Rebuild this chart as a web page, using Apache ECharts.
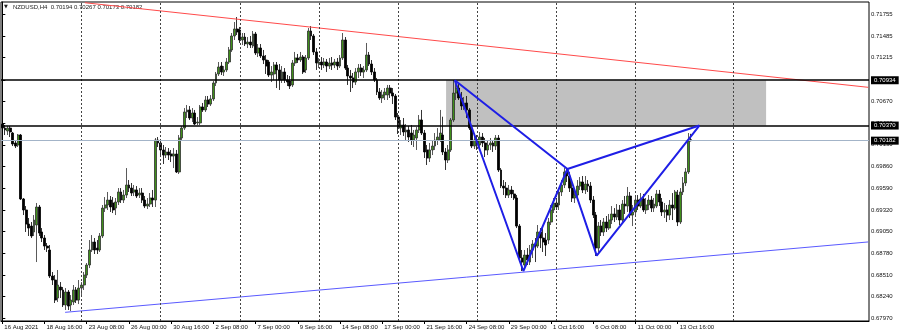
<!DOCTYPE html>
<html><head><meta charset="utf-8">
<script src="https://cdn.jsdelivr.net/npm/echarts@6/dist/echarts.min.js"></script>
<style>html,body{margin:0;padding:0;background:#fff}#c{width:900px;height:334px}</style>
</head><body><div id="c"></div>
<script>
// NZDUSD H4 candles (16 Aug 2021 00:00 .. 14 Oct 2021 12:00)
const openP=[
.70389,.70339,.70302,.70339,.70277,.70153,.70128,.70252,.69456,.69319,
.69144,.69119,.69045,.69132,.69356,.69045,.68970,.68870,.68821,.68497,
.68447,.68223,.68360,.68323,.68136,.68298,.68136,.68173,.68323,.68198,
.68347,.68385,.68509,.68634,.68821,.68920,.68845,.68821,.68995,.69343,
.69381,.69443,.69406,.69343,.69418,.69543,.69443,.69505,.69630,.69592,
.69543,.69568,.69505,.69530,.69443,.69368,.69393,.69468,.69443,.70190,
.70153,.70066,.70003,.70041,.70016,.69991,.70016,.69792,.70215,.70339,
.70539,.70564,.70464,.70526,.70402,.70402,.70601,.70564,.70688,.70638,
.70701,.70900,.71012,.71111,.71037,.71062,.71161,.71311,.71485,.71572,
.71560,.71435,.71472,.71385,.71410,.71360,.71510,.71273,.71335,.71236,
.71186,.71161,.70999,.71012,.71124,.71062,.70937,.71037,.70937,.70925,
.70875,.71149,.71211,.71186,.71223,.71062,.71211,.71547,.71485,.71286,
.71149,.71161,.71124,.71161,.71111,.71149,.71124,.71161,.71111,.71211,
.71435,.71086,.70987,.70962,.70912,.71037,.71086,.71037,.71062,.71248,
.71136,.71037,.70937,.70788,.70713,.70750,.70750,.70837,.70775,.70738,
.70476,.70339,.70377,.70290,.70315,.70277,.70190,.70215,.70315,.70439,
.70277,.70066,.69966,.70066,.70115,.70190,.70190,.70252,.70041,.69941,
.70066,.70439,.70775,.70837,.70713,.70613,.70651,.70564,.70339,.70115,
.70190,.70128,.70227,.70153,.70066,.70128,.70153,.70115,.70215,.69817,
.69617,.69592,.69505,.69568,.69518,.69468,.69119,.68721,.68634,.68758,
.68671,.68821,.68895,.68870,.69045,.68970,.68945,.68945,.69169,.69319,
.69406,.69381,.69543,.69630,.69792,.69742,.69592,.69468,.69505,.69617,
.69667,.69568,.69642,.69617,.69443,.69256,.68845,.69119,.69045,.69169,
.69094,.69194,.69269,.69231,.69319,.69194,.69393,.69368,.69493,.69256,
.69294,.69443,.69368,.69456,.69319,.69381,.69443,.69343,.69368,.69518,
.69418,.69294,.69319,.69256,.69381,.69343,.69505,.69169,.69543,.69655,
.69792,.70194];
const closeP=[
.70339,.70315,.70339,.70290,.70140,.70115,.70252,.69456,.69319,.69144,
.69094,.68995,.69194,.69356,.69032,.68970,.68870,.68845,.68497,.68447,
.68198,.68385,.68323,.68136,.68298,.68123,.68198,.68323,.68198,.68347,
.68385,.68509,.68634,.68821,.68920,.68821,.68821,.68995,.69343,.69381,
.69443,.69356,.69319,.69418,.69543,.69443,.69505,.69630,.69592,.69530,
.69568,.69493,.69530,.69443,.69368,.69393,.69468,.69443,.70190,.70153,
.70066,.70003,.70041,.70003,.69991,.70016,.69792,.70215,.70339,.70539,
.70564,.70464,.70526,.70389,.70414,.70601,.70564,.70688,.70638,.70701,
.70900,.71012,.71099,.71037,.71062,.71161,.71311,.71485,.71572,.71535,
.71435,.71472,.71385,.71410,.71373,.71510,.71273,.71335,.71236,.71186,
.71111,.70999,.71037,.71124,.71062,.70937,.71037,.70937,.70912,.70862,
.71149,.71211,.71186,.71223,.71037,.71211,.71547,.71485,.71286,.71149,
.71161,.71124,.71161,.71111,.71149,.71124,.71161,.71111,.71211,.71435,
.71086,.70987,.70962,.70912,.71037,.71086,.71037,.71062,.71248,.71136,
.71037,.70937,.70788,.70713,.70750,.70788,.70837,.70775,.70738,.70476,
.70339,.70377,.70290,.70315,.70227,.70190,.70252,.70315,.70439,.70277,
.70041,.69966,.70066,.70115,.70190,.70227,.70277,.70041,.69941,.70066,
.70439,.70775,.70837,.70713,.70613,.70651,.70564,.70339,.70115,.70190,
.70140,.70227,.70153,.70066,.70128,.70153,.70115,.70215,.69817,.69617,
.69592,.69505,.69568,.69518,.69468,.69119,.68721,.68671,.68758,.68696,
.68821,.68895,.68870,.69045,.68970,.68920,.68883,.69169,.69319,.69406,
.69356,.69543,.69630,.69792,.69742,.69592,.69468,.69505,.69617,.69667,
.69568,.69642,.69617,.69443,.69256,.68845,.69119,.69045,.69169,.69094,
.69194,.69269,.69231,.69319,.69194,.69393,.69368,.69493,.69256,.69294,
.69443,.69368,.69456,.69319,.69381,.69443,.69343,.69393,.69518,.69418,
.69294,.69319,.69256,.69381,.69343,.69543,.69169,.69543,.69655,.69792,
.70178,.70182];
const highP=[
.70439,.70377,.70364,.70364,.70290,.70190,.70265,.70265,.69468,.69368,
.69219,.69169,.69256,.69406,.69381,.69094,.69007,.68908,.68883,.68547,
.68509,.68572,.68422,.68360,.68347,.68323,.68260,.68385,.68360,.68447,
.68422,.68547,.68659,.68945,.69007,.68970,.68945,.69032,.69381,.69480,
.69543,.69493,.69480,.69468,.69592,.69592,.69568,.69841,.69692,.69655,
.69630,.69617,.69592,.69592,.69493,.69468,.69530,.69568,.70215,.70227,
.70190,.70128,.70103,.70090,.70066,.70090,.70066,.70252,.70364,.70588,
.70626,.70613,.70588,.70564,.70476,.70626,.70651,.70738,.70738,.70750,
.70925,.71037,.71161,.71161,.71111,.71211,.71348,.71522,.71659,.71721,
.71597,.71522,.71522,.71472,.71485,.71547,.71535,.71385,.71385,.71311,
.71248,.71186,.71111,.71161,.71161,.71136,.71111,.71086,.70999,.70987,
.71186,.71286,.71261,.71286,.71248,.71248,.71584,.71609,.71510,.71335,
.71211,.71223,.71211,.71199,.71211,.71223,.71199,.71211,.71248,.71522,
.71472,.71124,.71062,.71024,.71086,.71136,.71136,.71111,.71398,.71286,
.71186,.71086,.70962,.70837,.70813,.70837,.70875,.70875,.70837,.70763,
.70526,.70439,.70464,.70389,.70364,.70377,.70315,.70352,.70501,.70564,
.70315,.70128,.70153,.70190,.70277,.70339,.70564,.70480,.70090,.70128,
.70464,.70937,.70912,.70887,.70788,.70725,.70738,.70588,.70377,.70240,
.70252,.70290,.70277,.70215,.70190,.70215,.70190,.70252,.70252,.69841,
.69692,.69667,.69630,.69617,.69568,.69505,.69144,.68821,.68821,.68845,
.68883,.68945,.68970,.69132,.69094,.69094,.69032,.69219,.69381,.69468,
.69468,.69592,.69692,.69841,.69841,.69792,.69655,.69568,.69692,.69729,
.69742,.69742,.69692,.69667,.69493,.69294,.69169,.69194,.69219,.69244,
.69269,.69368,.69343,.69393,.69381,.69443,.69493,.69605,.69543,.69381,
.69480,.69505,.69530,.69518,.69468,.69505,.69493,.69468,.69568,.69568,
.69468,.69406,.69381,.69443,.69530,.69568,.69568,.69592,.69729,.69841,
.70277,.70267];
const lowP=[
.70290,.70252,.70252,.70227,.70115,.70090,.70103,.69443,.69256,.69045,
.68995,.68970,.68995,.68671,.68995,.68920,.68821,.68796,.68472,.68385,
.68161,.68173,.68223,.68111,.68074,.68074,.68061,.68136,.68161,.68148,
.68248,.68323,.68472,.68596,.68796,.68771,.68771,.68796,.68970,.69294,
.69319,.69294,.69281,.69256,.69381,.69406,.69406,.69468,.69543,.69493,
.69493,.69468,.69468,.69406,.69343,.69331,.69356,.69356,.69356,.70103,
.69978,.69891,.69966,.69941,.69916,.69841,.69779,.69767,.70190,.70315,
.70464,.70439,.70414,.70377,.70377,.70377,.70539,.70539,.70601,.70613,
.70676,.70862,.70987,.70999,.70987,.71037,.71136,.71286,.71435,.71497,
.71398,.71373,.71360,.71335,.71335,.71335,.71248,.71223,.71211,.71136,
.71012,.70974,.70912,.70937,.70837,.70813,.70900,.70900,.70862,.70825,
.70850,.71111,.71149,.71161,.71012,.71024,.71186,.71435,.71248,.71062,
.71086,.71062,.71086,.71037,.71074,.71062,.71086,.71062,.71086,.71186,
.71062,.70875,.70788,.70837,.70875,.70962,.70987,.70962,.71037,.71111,
.70999,.70912,.70750,.70688,.70651,.70688,.70688,.70713,.70638,.70439,
.70265,.70252,.70240,.70190,.70165,.70128,.70103,.70066,.70277,.70252,
.69966,.69879,.69916,.70003,.70066,.70128,.70165,.70003,.69817,.69904,
.70041,.70414,.70688,.70688,.70564,.70564,.70464,.70315,.70090,.70078,
.70066,.70066,.70103,.69978,.70003,.70066,.70041,.70066,.69792,.69592,
.69505,.69468,.69468,.69468,.69443,.69094,.68671,.68559,.68596,.68634,
.68634,.68721,.68671,.68845,.68845,.68796,.68746,.68895,.69132,.69281,
.69319,.69319,.69493,.69592,.69667,.69543,.69418,.69406,.69468,.69568,
.69530,.69518,.69543,.69406,.69219,.68746,.68796,.68995,.68995,.69045,
.69070,.69144,.69169,.69194,.69132,.69169,.69269,.69294,.69219,.69119,
.69244,.69319,.69343,.69294,.69269,.69319,.69294,.69294,.69343,.69368,
.69244,.69219,.69169,.69194,.69194,.69319,.69119,.69144,.69505,.69617,
.69767,.70173];

// axis ticks
const xTickLabels=['16 Aug 2021','18 Aug 16:00','23 Aug 08:00','26 Aug 00:00','30 Aug 16:00','2 Sep 08:00','7 Sep 00:00','9 Sep 16:00','14 Sep 08:00','17 Sep 00:00','21 Sep 16:00','24 Sep 08:00','29 Sep 00:00','1 Oct 16:00','6 Oct 08:00','11 Oct 00:00','13 Oct 16:00'];
const yTickValues=[0.67970,0.68240,0.68510,0.68780,0.69050,0.69320,0.69590,0.69860,0.70130,0.70400,0.70670,0.70940,0.71215,0.71485,0.71755];

// drawn objects (bar index, price)
const levelLines=[0.70934,0.70370];
const bidPrice=0.70182;
const zoneRect=[[168.2,0.70934],[289.5,0.70370]];
const redTrend=[[31.3,0.71899],[328.2,0.70846]];
const blueTrend=[[23.8,0.68045],[328.2,0.68921]];
const patternPath=[[171.5,0.70934],[197.5,0.68559],[214.2,0.69829],[225.3,0.68750],[264.2,0.70370]];
const patternDiag=[[171.5,0.70934],[214.2,0.69829],[264.2,0.70370]];
const weekLines=[30,60,90,120,150,180,210,240,277];
const titleText='NZDUSD,H4  0.70194 0.70267 0.70173 0.70182';

const SLOTS=329;
const BARS_PER_LABEL=16;
const FONT='"Liberation Sans", Arial, sans-serif';

const cats=Array.from({length:SLOTS},(_,i)=>String(i));
const candles=openP.map((o,i)=>[o,closeP[i],lowP[i],highP[i]]);
const lastLabelIdx=(xTickLabels.length-1)*BARS_PER_LABEL;
const showIdx=(i)=>i%BARS_PER_LABEL===0&&i<=lastLabelIdx;

const chart=echarts.init(document.getElementById('c'),null,{renderer:'canvas'});
const boxLabel={show:true,position:'end',distance:2,formatter:p=>Number(p.value).toFixed(5),backgroundColor:'#000',color:'#fff',padding:[1,3,1,3],fontSize:6,fontFamily:FONT};
chart.setOption({
  animation:false,
  backgroundColor:'#fff',
  grid:{left:1,right:31,top:2,bottom:13,show:true,borderColor:'#000',borderWidth:1},
  xAxis:[
    {type:'category',data:cats,boundaryGap:true,
     axisLine:{show:true,lineStyle:{color:'#000',width:1}},
     axisTick:{show:true,interval:showIdx,alignWithLabel:true,length:3,lineStyle:{color:'#000'}},
     axisLabel:{interval:showIdx,formatter:(v,i)=>xTickLabels[i/BARS_PER_LABEL]||'',align:'left',margin:3,fontSize:6,fontFamily:FONT,color:'#111',padding:[0,0,0,2]},
     splitLine:{show:false}},
    {type:'value',min:-0.5,max:SLOTS-0.5,show:false}
  ],
  yAxis:{type:'value',position:'right',min:0.67937,max:0.71908,
    axisLine:{show:true,lineStyle:{color:'#000'}},
    axisTick:{show:true,customValues:yTickValues,length:3,lineStyle:{color:'#000'}},
    axisLabel:{customValues:yTickValues,formatter:v=>v.toFixed(5),fontSize:6,fontFamily:FONT,color:'#111',margin:2},
    splitLine:{show:false}},
  graphic:[
    {type:'text',x:4,y:7,style:{text:'▼',fill:'#222',textVerticalAlign:'middle',font:'5px "DejaVu Sans"'}},
    {type:'text',x:13,y:7,style:{text:titleText,fill:'#222',textVerticalAlign:'middle',font:'6px "Liberation Sans", Arial'}}
  ],
  series:[
    {type:'line',xAxisIndex:1,data:[[0,0.70]],symbol:'none',lineStyle:{opacity:0},silent:true,z:1,
     markArea:{silent:true,itemStyle:{color:'#c0c0c0',opacity:1},data:[[{coord:zoneRect[0]},{coord:zoneRect[1]}]]},
     markLine:{silent:true,precision:5,symbol:['none','none'],label:{show:false},lineStyle:{color:'#444',type:[2,2],width:1},data:weekLines.map(v=>({xAxis:v}))}},
    {type:'candlestick',xAxisIndex:0,data:candles,barWidth:2.4,z:3,silent:true,
     itemStyle:{color:'#3f8f1a',color0:'#000',borderColor:'#303030',borderColor0:'#000',borderWidth:0.8}},
    {type:'line',xAxisIndex:1,data:redTrend,symbol:'none',silent:true,z:4,lineStyle:{color:'#ff4a4a',width:1}},
    {type:'line',xAxisIndex:1,data:blueTrend,symbol:'none',silent:true,z:4,lineStyle:{color:'#5a5aff',width:1}},
    {type:'line',xAxisIndex:1,data:[[0,0.70]],symbol:'none',lineStyle:{opacity:0},silent:true,z:5,
     markLine:{silent:true,precision:5,symbol:['none','none'],
       data:[
         {yAxis:bidPrice,lineStyle:{color:'#a3b4c8',width:1,type:'solid'},label:boxLabel},
         {yAxis:levelLines[0],lineStyle:{color:'#000',width:1.5,type:'solid'},label:boxLabel},
         {yAxis:levelLines[1],lineStyle:{color:'#000',width:1.5,type:'solid'},label:boxLabel}
       ]}},
    {type:'line',xAxisIndex:1,data:patternPath,symbol:'none',silent:true,z:6,lineStyle:{color:'#1e1ee6',width:2}},
    {type:'line',xAxisIndex:1,data:patternDiag,symbol:'none',silent:true,z:6,lineStyle:{color:'#1e1ee6',width:2}}
  ]
});
</script>
</body></html>
